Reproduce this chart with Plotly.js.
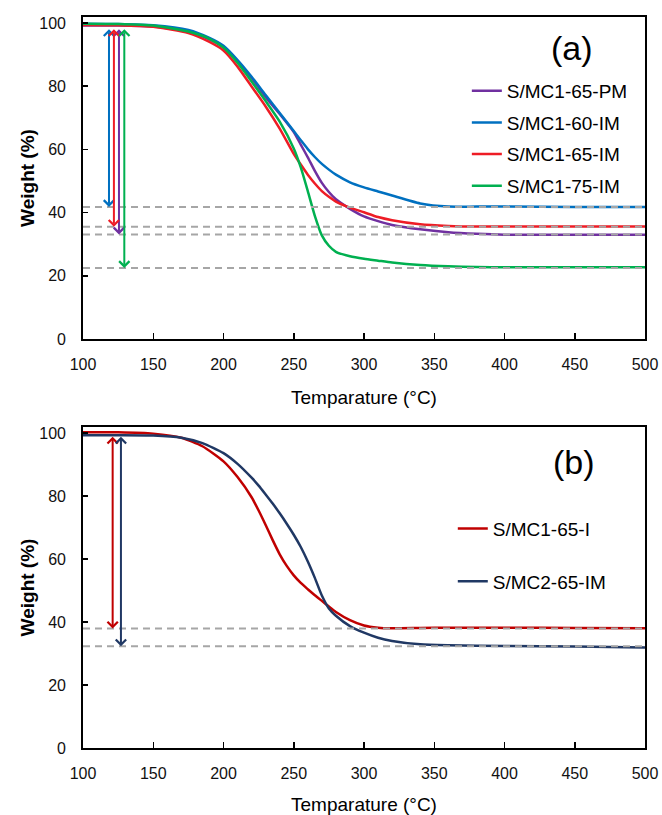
<!DOCTYPE html>
<html>
<head>
<meta charset="utf-8">
<script src="https://cdn.plot.ly/plotly-3.0.1.min.js"></script>
<style>html,body{margin:0;padding:0;background:#fff;}#chart{width:662px;height:815px;}</style>
</head>
<body>
<div id="chart"></div>
<script>
// ---------- Data: panel (a) ----------
const tempA = [100,125,150,175,190,200,210,220,230,240,250,255,260,265,270,275,280,290,300,310,320,340,360,380,400,450,500];
const pm65  = [99.2,99.2,98.9,97.3,94.8,92.3,87.9,82.6,76.5,71.2,65.5,61.5,57.5,53.2,49.4,46.5,44.2,41.2,38.8,37.3,36.1,34.7,33.8,33.3,33.0,33.0,33.0];
const im60  = [99.8,99.7,99.3,97.8,95.3,92.8,88.3,83.0,77.2,71.5,65.8,62.9,60.1,57.6,55.4,53.6,52.0,49.6,48.0,46.7,45.4,42.9,41.9,41.9,41.9,41.8,41.8];
const im65  = [99.4,99.3,98.8,96.8,94.0,91.3,86.2,79.9,73.6,66.6,58.6,55.2,52.0,49.2,46.8,45.0,43.5,41.6,40.1,38.6,37.6,36.3,35.8,35.6,35.6,35.6,35.6];
const im75  = [99.8,99.7,99.2,97.3,95.0,92.2,87.4,81.5,75.3,68.8,60.3,54.3,46.8,39.0,32.8,29.5,27.6,26.2,25.4,24.8,24.2,23.4,23.0,22.8,22.7,22.7,22.7];
const namesA = ['S/MC1-65-PM','S/MC1-60-IM','S/MC1-65-IM','S/MC1-75-IM'];
const levelsA = [33.1, 41.8, 35.5, 22.5];     // residual weight (dashed guides)
const arrowXA = [125.6, 118.5, 122.0, 129.4]; // temperature where the arrows sit
const arrowTopA = 98.5;

// ---------- Data: panel (b) ----------
const tempB = [100,125,150,170,185,200,210,220,225,230,235,240,245,250,255,260,265,270,275,280,290,300,310,320,340,360,400,450,500];
const i65   = [100.2,100.2,99.8,98.5,95.8,91.0,86.0,79.6,75.4,70.8,66.0,61.5,57.8,54.8,52.4,50.4,48.5,46.7,44.9,43.2,40.6,38.9,38.2,38.0,38.1,38.2,38.2,38.1,38.0];
const mc2   = [99.3,99.3,99.2,98.5,96.8,93.6,90.2,85.8,83.3,80.5,77.6,74.5,71.2,67.7,63.8,59.2,54.0,48.4,44.3,42.0,38.7,36.6,35.0,34.0,32.9,32.6,32.4,32.2,31.9];
const namesB = ['S/MC1-65-I','S/MC2-65-IM'];
const levelsB = [37.9, 32.3];
const arrowXB = [121.1, 127.0];
const arrowTopB = 99.3;

const xTicks = [100,150,200,250,300,350,400,450,500];
const yTicks = [0,20,40,60,80,100];

// ---------- Styles ----------
const colA = ['#7030A0','#0070C0','#EE1C25','#00B050'];
const colB = ['#C00000','#203864'];
const FONT = 'Liberation Sans, Arial, sans-serif';

const traces = [];
const seriesA = [pm65, im60, im65, im75];
seriesA.forEach((s,i)=>traces.push({
  x: tempA, y: s, type:'scatter', mode:'lines', name: namesA[i],
  line:{color:colA[i], width:2.5, shape:'spline', smoothing:0.6},
  xaxis:'x', yaxis:'y', legend:'legend', legendgroup:'a'+i
}));
levelsA.forEach(v=>traces.push({
  x:[xTicks[0], xTicks[xTicks.length-1]], y:[v,v], type:'scatter', mode:'lines',
  line:{color:'#A6A6A6', width:2, dash:'7px,5px'}, showlegend:false, hoverinfo:'skip',
  xaxis:'x', yaxis:'y'
}));
const seriesB = [i65, mc2];
seriesB.forEach((s,i)=>traces.push({
  x: tempB, y: s, type:'scatter', mode:'lines', name: namesB[i],
  line:{color:colB[i], width:2.5, shape:'spline', smoothing:0.6},
  xaxis:'x2', yaxis:'y2', legend:'legend2', legendgroup:'b'+i
}));
levelsB.forEach(v=>traces.push({
  x:[xTicks[0], xTicks[xTicks.length-1]], y:[v,v], type:'scatter', mode:'lines',
  line:{color:'#A6A6A6', width:2, dash:'7px,5px'}, showlegend:false, hoverinfo:'skip',
  xaxis:'x2', yaxis:'y2'
}));

const annotations = [];
levelsA.forEach((v,i)=>annotations.push({
  xref:'x', yref:'y', axref:'x', ayref:'y', x: arrowXA[i], y: v, ax: arrowXA[i], ay: arrowTopA,
  text:'', showarrow:true, arrowside:'end+start', arrowhead:4, startarrowhead:4,
  arrowsize:1, startarrowsize:1, arrowwidth:2, arrowcolor: colA[i], standoff:0, startstandoff:0
}));
levelsB.forEach((v,i)=>annotations.push({
  xref:'x2', yref:'y2', axref:'x2', ayref:'y2', x: arrowXB[i], y: v, ax: arrowXB[i], ay: arrowTopB,
  text:'', showarrow:true, arrowside:'end+start', arrowhead:4, startarrowhead:4,
  arrowsize:1, startarrowsize:1, arrowwidth:2, arrowcolor: colB[i], standoff:0, startstandoff:0
}));
annotations.push({xref:'paper', yref:'paper', x:0.8700, y:0.9576, text:'(a)', showarrow:false,
  font:{family:FONT, size:34, color:'#000'}, xanchor:'center', yanchor:'middle'});
annotations.push({xref:'paper', yref:'paper', x:0.8730, y:0.3912, text:'(b)', showarrow:false,
  font:{family:FONT, size:34, color:'#000'}, xanchor:'center', yanchor:'middle'});

function xax(anchor){
  return {anchor:anchor, domain:[0,1], range:[100,500], tickvals:xTicks, ticks:'inside', ticklen:6,
    tickwidth:1.5, tickcolor:'#000', showline:true, linecolor:'#000', linewidth:1.8, mirror:true,
    showgrid:false, zeroline:false, tickfont:{family:FONT, size:16, color:'#111'}, ticklabelstandoff:10,
    title:{text:'Temparature (°C)', font:{family:FONT, size:19, color:'#000'}, standoff:19}};
}
function yax(anchor, dom){
  return {anchor:anchor, domain:dom, range:[0,101.9], tickvals:yTicks, ticks:'inside', ticklen:5,
    tickwidth:1.5, tickcolor:'#000', showline:true, linecolor:'#000', linewidth:1.8, mirror:true,
    showgrid:false, zeroline:false, tickfont:{family:FONT, size:16, color:'#111'}, ticklabelstandoff:12,
    title:{text:'<b>Weight (%)</b>', font:{family:FONT, size:19, color:'#000'}, standoff:0}};
}

const layout = {
  width:662, height:815, margin:{l:83, r:17, t:17, b:67},
  paper_bgcolor:'#fff', plot_bgcolor:'#fff',
  xaxis: xax('y'), yaxis: yax('x',[0.5595,1]),
  xaxis2: xax('y2'), yaxis2: yax('x2',[0,0.4391]),
  showlegend:true,
  legend:{x:0.683, y:0.925, xanchor:'left', yanchor:'top', bgcolor:'rgba(0,0,0,0)',
    font:{family:FONT, size:19, color:'#000'}, tracegroupgap:4, itemwidth:30},
  legend2:{x:0.658, y:0.326, xanchor:'left', yanchor:'top', bgcolor:'rgba(0,0,0,0)',
    font:{family:FONT, size:19, color:'#000'}, tracegroupgap:25, itemwidth:30},
  annotations: annotations
};

Plotly.newPlot('chart', traces, layout, {staticPlot:true});
</script>
</body>
</html>
